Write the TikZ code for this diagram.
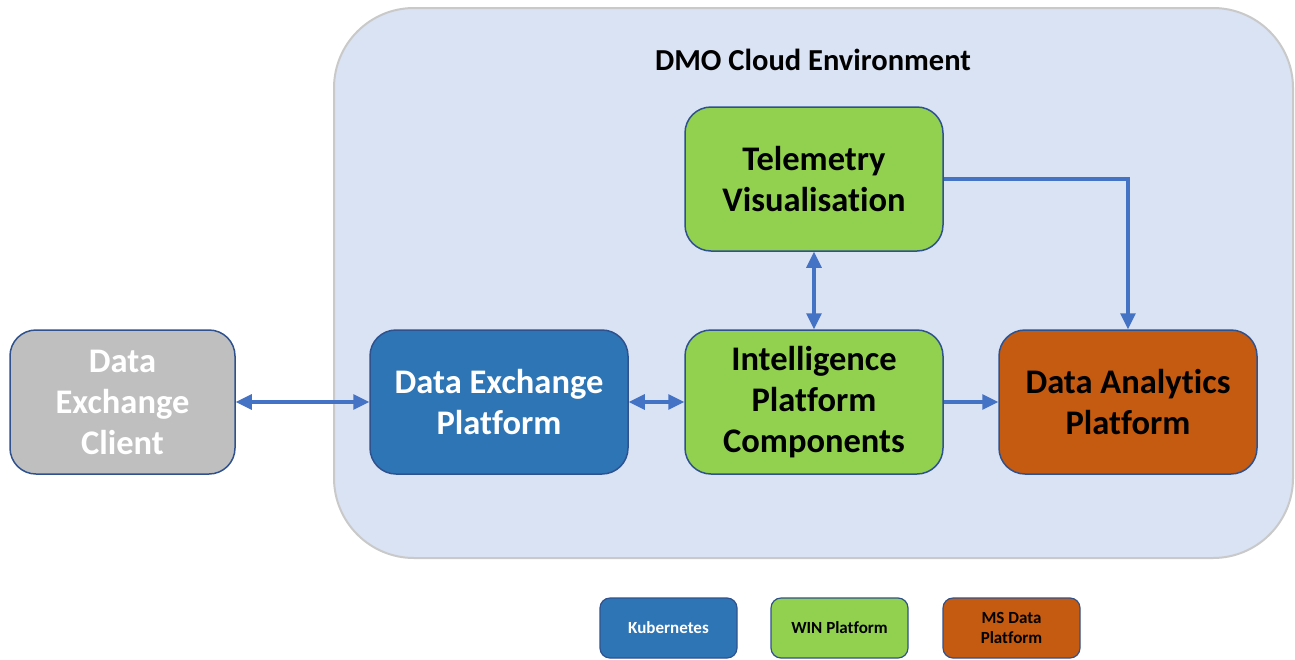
\documentclass[tikz,border=0pt]{standalone}
\usepackage{fontspec}
\setmainfont{Carlito}[Ligatures=NoCommon]
\usetikzlibrary{arrows.meta}
\definecolor{cloudfill}{HTML}{DAE3F3}
\definecolor{cloudline}{HTML}{C9C9C9}
\definecolor{boxline}{HTML}{2F528F}
\definecolor{kubeblue}{HTML}{2E75B6}
\definecolor{wingreen}{HTML}{92D050}
\definecolor{msorange}{HTML}{C55A11}
\definecolor{clientgrey}{HTML}{BFBFBF}
\definecolor{linkblue}{HTML}{4472C4}
\tikzset{
  compbox/.style={draw=boxline, line width=1.5pt, rounded corners=26pt,
    minimum width=258pt, minimum height=144pt, align=center,
    font=\fontsize{34.5}{41}\selectfont\bfseries, inner sep=0pt},
  legendbox/.style={draw=boxline, line width=1.2pt, rounded corners=10pt,
    minimum width=137pt, minimum height=60pt, align=center,
    font=\fontsize{17}{20.5}\selectfont\bfseries, inner sep=0pt},
  conn/.style={draw=linkblue, line width=3.2pt,
    arrows={-Triangle[length=16pt,width=15pt]}},
  twoway/.style={conn, arrows={Triangle[length=16pt,width=15pt]-Triangle[length=16pt,width=15pt]}}
}
\begin{document}
\begin{tikzpicture}[x=1pt,y=-1pt]
\useasboundingbox (0,0) rectangle (1295,659);
% cloud environment
\draw[fill=cloudfill, draw=cloudline, line width=2pt, rounded corners=80pt]
  (334,8) rectangle (1293,558);
\node[font=\fontsize{30.5}{36}\selectfont\bfseries] (title) at (813,60) {DMO Cloud Environment};
% components
\node[compbox, fill=clientgrey, text=white, minimum width=225pt] (client) at (122.5,402) {Data\\Exchange\\Client};
\node[compbox, fill=kubeblue, text=white] (dep) at (499,402) {Data Exchange\\Platform};
\node[compbox, fill=wingreen, text=black] (ipc) at (814,402) {Intelligence\\Platform\\Components};
\node[compbox, fill=msorange, text=black] (dap) at (1128,402) {Data Analytics\\Platform};
\node[compbox, fill=wingreen, text=black] (tele) at (814,179) {Telemetry\\Visualisation};
% links
\draw[twoway] (client) -- (dep);
\draw[twoway] (dep) -- (ipc);
\draw[conn] (ipc) -- (dap);
\draw[twoway] (tele) -- (ipc);
\draw[conn] (tele.east) -| (dap.north);
% legend
\node[legendbox, fill=kubeblue, text=white] (lkube) at (668.5,628) {Kubernetes};
\node[legendbox, fill=wingreen, text=black] (lwin) at (839.5,628) {WIN Platform};
\node[legendbox, fill=msorange, text=black] (lms) at (1011.5,628) {MS Data\\Platform};
\end{tikzpicture}
\end{document}
